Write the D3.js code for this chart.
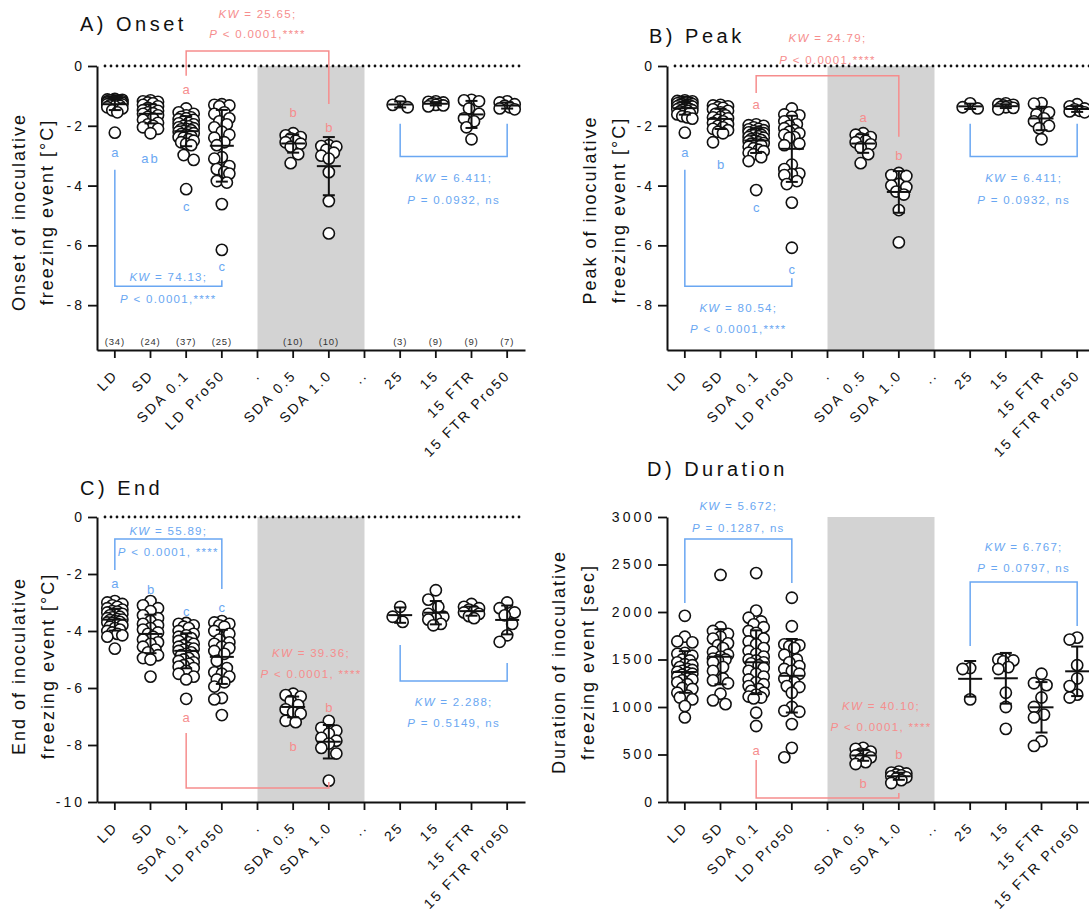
<!DOCTYPE html>
<html>
<head>
<meta charset="utf-8">
<script src="https://cdn.jsdelivr.net/npm/d3@7"></script>
<style>
  body { margin: 0; background: #fff; }
  svg text { font-family: "Liberation Sans", Arial, sans-serif; }
</style>
</head>
<body>
<svg id="fig" width="1089" height="915"></svg>
<script>
// Treatment groups; "." and ".." are empty spacer slots between blocks
const categories = ["LD", "SD", "SDA 0.1", "LD Pro50", ".", "SDA 0.5", "SDA 1.0", "..", "25", "15", "15 FTR", "15 FTR Pro50"];

// Onset of inoculative freezing event [°C], one list per group
const onset = [
  [-1.10,-1.12,-1.13,-1.14,-1.15,-1.15,-1.16,-1.17,-1.18,-1.18,-1.19,-1.20,-1.20,-1.21,-1.22,-1.22,-1.23,-1.24,-1.25,-1.25,-1.26,-1.27,-1.28,-1.29,-1.30,-1.30,-1.32,-1.33,-1.35,-1.38,-1.42,-1.48,-1.55,-2.23],
  [-1.15,-1.18,-1.20,-1.22,-1.25,-1.30,-1.35,-1.40,-1.45,-1.48,-1.50,-1.55,-1.58,-1.60,-1.65,-1.70,-1.75,-1.80,-1.90,-1.95,-2.00,-2.05,-2.10,-2.25],
  [-1.42,-1.55,-1.60,-1.65,-1.70,-1.72,-1.75,-1.78,-1.80,-1.85,-1.90,-1.92,-1.95,-2.00,-2.02,-2.05,-2.08,-2.10,-2.12,-2.15,-2.18,-2.20,-2.22,-2.25,-2.28,-2.30,-2.35,-2.38,-2.40,-2.45,-2.50,-2.55,-2.60,-2.65,-2.98,-3.14,-4.12],
  [-1.28,-1.30,-1.32,-1.35,-1.55,-1.60,-1.75,-1.85,-1.95,-2.05,-2.20,-2.30,-2.40,-2.55,-2.65,-3.05,-3.10,-3.35,-3.45,-3.55,-3.60,-3.85,-3.90,-4.62,-6.15],
  [],
  [-2.25,-2.32,-2.38,-2.42,-2.50,-2.55,-2.60,-2.70,-2.95,-3.25],
  [-2.65,-2.68,-2.70,-2.80,-2.90,-3.00,-3.10,-3.55,-4.52,-5.60],
  [],
  [-1.18,-1.30,-1.38],
  [-1.18,-1.20,-1.22,-1.25,-1.27,-1.28,-1.30,-1.32,-1.35],
  [-1.13,-1.15,-1.18,-1.42,-1.60,-1.75,-1.85,-2.05,-2.45],
  [-1.18,-1.22,-1.28,-1.33,-1.38,-1.42,-1.45]
];

// Peak of inoculative freezing event [°C]
const peak = [
  [-1.15,-1.17,-1.18,-1.20,-1.20,-1.22,-1.23,-1.25,-1.25,-1.27,-1.28,-1.30,-1.30,-1.32,-1.33,-1.35,-1.36,-1.38,-1.40,-1.40,-1.42,-1.44,-1.45,-1.47,-1.48,-1.50,-1.52,-1.55,-1.58,-1.62,-1.68,-1.72,-1.76,-2.23],
  [-1.30,-1.32,-1.35,-1.38,-1.40,-1.45,-1.50,-1.55,-1.60,-1.65,-1.70,-1.72,-1.75,-1.80,-1.85,-1.90,-1.95,-2.00,-2.05,-2.10,-2.15,-2.20,-2.25,-2.55],
  [-1.95,-1.98,-2.00,-2.05,-2.10,-2.12,-2.15,-2.18,-2.20,-2.22,-2.25,-2.28,-2.30,-2.30,-2.32,-2.35,-2.38,-2.40,-2.42,-2.45,-2.48,-2.50,-2.52,-2.55,-2.58,-2.60,-2.62,-2.65,-2.70,-2.75,-2.80,-2.85,-2.90,-2.95,-3.05,-3.18,-4.15],
  [-1.42,-1.62,-1.65,-1.70,-1.85,-1.95,-2.00,-2.08,-2.15,-2.20,-2.25,-2.30,-2.38,-2.40,-2.60,-2.65,-3.30,-3.45,-3.60,-3.62,-3.65,-3.85,-3.95,-4.57,-6.08],
  [],
  [-2.25,-2.30,-2.38,-2.42,-2.50,-2.55,-2.62,-2.72,-2.95,-3.25],
  [-3.58,-3.65,-3.68,-3.95,-4.00,-4.05,-4.20,-4.30,-4.82,-5.90],
  [],
  [-1.25,-1.38,-1.42],
  [-1.25,-1.28,-1.30,-1.32,-1.35,-1.37,-1.38,-1.40,-1.45],
  [-1.24,-1.26,-1.55,-1.62,-1.75,-1.85,-2.00,-2.08,-2.45],
  [-1.28,-1.35,-1.42,-1.45,-1.50,-1.52,-1.55]
];

// End of inoculative freezing event [°C]
const endTemp = [
  [-2.95,-3.00,-3.05,-3.10,-3.15,-3.20,-3.25,-3.30,-3.32,-3.35,-3.40,-3.42,-3.45,-3.50,-3.52,-3.55,-3.58,-3.60,-3.62,-3.65,-3.68,-3.70,-3.72,-3.75,-3.80,-3.85,-3.90,-3.95,-4.00,-4.05,-4.10,-4.15,-4.20,-4.62],
  [-2.95,-3.10,-3.20,-3.30,-3.45,-3.55,-3.65,-3.75,-3.80,-3.90,-3.95,-4.05,-4.10,-4.20,-4.30,-4.40,-4.45,-4.55,-4.65,-4.75,-4.85,-4.95,-5.00,-5.60],
  [-3.72,-3.75,-3.80,-3.85,-3.90,-4.00,-4.10,-4.15,-4.20,-4.25,-4.30,-4.35,-4.40,-4.45,-4.50,-4.55,-4.60,-4.62,-4.65,-4.70,-4.75,-4.80,-4.85,-4.90,-4.95,-5.00,-5.05,-5.10,-5.15,-5.20,-5.25,-5.30,-5.40,-5.50,-5.60,-5.70,-6.38],
  [-3.65,-3.70,-3.75,-3.80,-3.85,-4.00,-4.10,-4.30,-4.40,-4.45,-4.55,-4.60,-4.70,-4.80,-5.05,-5.30,-5.45,-5.50,-5.60,-5.70,-5.80,-5.95,-6.35,-6.40,-6.95],
  [],
  [-6.20,-6.25,-6.30,-6.45,-6.60,-6.75,-6.85,-6.90,-7.15,-7.20],
  [-7.15,-7.40,-7.50,-7.60,-7.75,-7.85,-7.95,-8.10,-8.30,-9.25],
  [],
  [-3.15,-3.50,-3.68],
  [-2.57,-2.90,-3.15,-3.40,-3.50,-3.55,-3.60,-3.75,-3.80],
  [-3.05,-3.15,-3.20,-3.25,-3.30,-3.35,-3.40,-3.48,-3.55],
  [-3.00,-3.20,-3.35,-3.45,-3.75,-4.15,-4.38]
];

// Duration of inoculative freezing event [sec]
const duration = [
  [1960,1740,1690,1680,1570,1560,1540,1500,1490,1470,1450,1440,1420,1400,1390,1380,1370,1360,1350,1340,1320,1300,1290,1280,1260,1240,1200,1190,1150,1120,1100,1080,1010,890],
  [2390,1840,1800,1770,1740,1720,1670,1650,1620,1580,1550,1530,1510,1500,1490,1470,1420,1380,1300,1280,1250,1140,1070,1030],
  [2410,2015,1940,1900,1870,1840,1800,1780,1720,1690,1660,1620,1590,1560,1530,1500,1490,1470,1460,1440,1410,1380,1350,1320,1290,1260,1240,1220,1190,1170,1150,1130,1110,1100,1090,940,800],
  [2150,1850,1660,1660,1650,1640,1620,1550,1500,1470,1430,1400,1380,1350,1300,1260,1220,1210,1150,1000,960,950,820,570,470],
  [],
  [570,560,530,510,500,490,470,450,420,400],
  [320,310,300,290,280,270,260,250,230,200],
  [],
  [1410,1400,1080],
  [1510,1500,1490,1480,1420,1400,1150,1000,770],
  [1350,1250,1230,1100,1000,920,890,640,590],
  [1730,1710,1440,1300,1220,1130,1100]
];

// Axis tick values
const tempTicks = [0, -2, -4, -6, -8];
const endTicks = [0, -2, -4, -6, -8, -10];
const durationTicks = [0, 500, 1000, 1500, 2000, 2500, 3000];

const BLUE = "#6aa7f2";
const RED = "#f68d8d";
const SHADE = "#d3d3d3";
const INK = "#111";
const R = 5.6;

const svg = d3.select("#fig");

// Spread points of a group sideways so that close values sit next to each other
function spread(pys) {
  const order = pys.map((py, i) => ({ py, i })).sort((a, b) => a.py - b.py);
  const offsets = [0, -2.5, 2.5, -5, 5, -7.5, 7.5];
  const placed = [];
  const out = new Array(pys.length);
  for (const p of order) {
    let best = 0, bestD = -1;
    for (const c of offsets) {
      let md = Infinity;
      for (const q of placed) {
        const d = Math.hypot(c - q.dx, p.py - q.py);
        if (d < md) md = d;
      }
      if (md >= 2 * R) { best = c; bestD = md; break; }
      if (md > bestD) { bestD = md; best = c; }
    }
    placed.push({ dx: best, py: p.py });
    out[p.i] = best;
  }
  return out;
}

function statText(g, x, yPix, str, color) {
  const t = g.append("text")
    .attr("x", x).attr("y", yPix)
    .attr("text-anchor", "middle")
    .attr("dominant-baseline", "central")
    .attr("fill", color)
    .style("font-size", "11.5px")
    .style("letter-spacing", "1.3px");
  const m = str.match(/^(KW|P)(.*)$/);
  t.append("tspan").attr("font-style", "italic").text(m[1]);
  t.append("tspan").text(m[2]);
}

function drawPanel(p) {
  const g = svg.append("g");
  const x = d3.scaleBand().domain(categories).range([p.x0, p.x0 + 428]);
  const cx = c => x(c) + x.bandwidth() / 2;
  const y = d3.scaleLinear().domain(p.domain).range([p.y1, p.y0]);

  // shaded block between the spacer slots
  g.append("rect")
    .attr("x", cx(".")).attr("width", cx("..") - cx("."))
    .attr("y", p.y0).attr("height", p.y1 - p.y0)
    .attr("fill", SHADE);

  if (p.zeroLine) {
    g.append("line")
      .attr("x1", p.x0 + 8).attr("x2", p.x0 + 428)
      .attr("y1", y(0)).attr("y2", y(0))
      .attr("stroke", INK).attr("stroke-width", 2.8)
      .attr("stroke-linecap", "round")
      .attr("stroke-dasharray", "0 6");
  }

  // y axis
  const ya = g.append("g").attr("transform", `translate(${p.x0},0)`)
    .call(d3.axisLeft(y).tickValues(p.ticks).tickSize(9).tickSizeOuter(0).tickPadding(3).tickFormat(d => String(d)));
  ya.select(".domain").attr("stroke", INK).attr("stroke-width", 2);
  ya.selectAll(".tick line").attr("stroke", INK).attr("stroke-width", 1.8);
  ya.selectAll(".tick text").attr("fill", INK)
    .style("font-family", '"Liberation Sans", Arial, sans-serif')
    .style("font-size", "14px").style("letter-spacing", "3px");

  // x axis
  const xa = g.append("g").attr("transform", `translate(0,${p.y1})`)
    .call(d3.axisBottom(x).tickSize(8).tickSizeOuter(0).tickFormat(""));
  xa.select(".domain").attr("stroke", INK).attr("stroke-width", 2);
  xa.selectAll(".tick line").attr("stroke", INK).attr("stroke-width", 1.8);
  xa.selectAll(".tick text").remove();
  g.selectAll(null).data(categories).join("text")
    .attr("transform", c => `translate(${cx(c) + 4},${p.y1 + 26}) rotate(-45)`)
    .attr("text-anchor", "end")
    .attr("fill", INK)
    .style("font-size", "14px").style("letter-spacing", "2.3px")
    .text(c => c);

  // group size labels
  if (p.showN) {
    categories.forEach((c, i) => {
      const n = p.values[i].length;
      if (!n) return;
      g.append("text")
        .attr("x", cx(c)).attr("y", y(p.nAt))
        .attr("text-anchor", "middle").attr("dominant-baseline", "central")
        .attr("fill", "#333")
        .style("font-size", "9.5px").style("letter-spacing", "0.8px")
        .text(`(${n})`);
    });
  }

  // individual observations
  categories.forEach((c, i) => {
    const vals = p.values[i];
    if (!vals.length) return;
    const pys = vals.map(v => y(v));
    const dxs = spread(pys);
    g.append("g").selectAll("circle").data(vals).join("circle")
      .attr("cx", (v, k) => cx(c) + dxs[k])
      .attr("cy", v => y(v))
      .attr("r", R)
      .attr("fill", "#fff").attr("stroke", INK).attr("stroke-width", 1.6);
  });

  // mean ± SD
  categories.forEach((c, i) => {
    const vals = p.values[i];
    if (vals.length < 2) return;
    const m = d3.mean(vals), sd = d3.deviation(vals);
    const xc = cx(c);
    const eb = g.append("g").attr("stroke", INK).attr("stroke-width", 2);
    eb.append("line").attr("x1", xc).attr("x2", xc).attr("y1", y(m - sd)).attr("y2", y(m + sd));
    eb.append("line").attr("x1", xc - 6).attr("x2", xc + 6).attr("y1", y(m - sd)).attr("y2", y(m - sd));
    eb.append("line").attr("x1", xc - 6).attr("x2", xc + 6).attr("y1", y(m + sd)).attr("y2", y(m + sd));
    eb.append("line").attr("x1", xc - 12).attr("x2", xc + 12).attr("y1", y(m)).attr("y2", y(m));
  });

  // brackets linking compared groups
  p.brackets.forEach(([a, va, b, vb, bar, color]) => {
    g.append("path")
      .attr("d", `M${cx(a)},${y(va)}V${y(bar)}H${cx(b)}V${y(vb)}`)
      .attr("fill", "none").attr("stroke", color).attr("stroke-width", 1.5);
  });

  // compact letter display
  p.letters.forEach(([c, v, t, color]) => {
    g.append("text")
      .attr("x", cx(c)).attr("y", y(v))
      .attr("text-anchor", "middle").attr("dominant-baseline", "central")
      .attr("fill", color)
      .style("font-size", "13px").style("letter-spacing", t.length > 1 ? "2px" : "0px")
      .text(t);
  });

  // Kruskal–Wallis results
  p.stats.forEach(([a, b, vs, lines, color]) => {
    const xm = (cx(a) + cx(b)) / 2;
    lines.forEach((s, k) => statText(g, xm, y(vs[k]), s, color));
  });

  // panel title
  g.append("text")
    .attr("x", p.titleX).attr("y", p.titleY)
    .attr("fill", INK)
    .style("font-size", "20px").style("letter-spacing", "3.5px")
    .text(p.title);

  // y axis title, two lines
  p.yTitle.forEach((s, k) => {
    g.append("text")
      .attr("transform", `translate(${p.yTitleX[k]},${p.yTitleY}) rotate(-90)`)
      .attr("text-anchor", "middle")
      .attr("fill", INK)
      .style("font-size", "18px").style("letter-spacing", "2px")
      .text(s);
  });
}

drawPanel({
  title: "A) Onset", titleX: 80, titleY: 31,
  values: onset, x0: 97, y0: 66, y1: 350, domain: [-9.5, 0], ticks: tempTicks,
  zeroLine: true, showN: true, nAt: -9.2,
  yTitle: ["Onset of inoculative", "freezing event [°C]"], yTitleX: [25, 53], yTitleY: 212,
  letters: [
    ["LD", -2.9, "a", BLUE], ["SD", -3.1, "ab", BLUE], ["SDA 0.1", -4.7, "c", BLUE], ["LD Pro50", -6.7, "c", BLUE],
    ["SDA 0.1", -0.77, "a", RED], ["SDA 0.5", -1.57, "b", RED], ["SDA 1.0", -2.07, "b", RED]
  ],
  brackets: [
    ["LD", -3.47, "LD Pro50", -7.17, -7.37, BLUE],
    ["SDA 0.1", -0.33, "SDA 1.0", -1.27, 0.5, RED],
    ["25", -1.93, "15 FTR Pro50", -1.93, -3.03, BLUE]
  ],
  stats: [
    ["LD", "LD Pro50", [-7.07, -7.8], ["KW = 74.13;", "P < 0.0001,****"], BLUE],
    ["SDA 0.1", "SDA 1.0", [1.73, 1.07], ["KW = 25.65;", "P < 0.0001,****"], RED],
    ["25", "15 FTR Pro50", [-3.73, -4.47], ["KW = 6.411;", "P = 0.0932, ns"], BLUE]
  ]
});

drawPanel({
  title: "B) Peak", titleX: 649, titleY: 43,
  values: peak, x0: 667, y0: 66, y1: 350, domain: [-9.5, 0], ticks: tempTicks,
  zeroLine: true, showN: false,
  yTitle: ["Peak of inoculative", "freezing event [°C]"], yTitleX: [596, 625], yTitleY: 210,
  letters: [
    ["LD", -2.9, "a", BLUE], ["SD", -3.3, "b", BLUE], ["SDA 0.1", -4.73, "c", BLUE], ["LD Pro50", -6.8, "c", BLUE],
    ["SDA 0.1", -1.3, "a", RED], ["SDA 0.5", -1.73, "a", RED], ["SDA 1.0", -3.0, "b", RED]
  ],
  brackets: [
    ["LD", -3.47, "LD Pro50", -7.1, -7.37, BLUE],
    ["SDA 0.1", -0.9, "SDA 1.0", -2.37, -0.33, RED],
    ["25", -1.93, "15 FTR Pro50", -1.93, -3.03, BLUE]
  ],
  stats: [
    ["LD", "LD Pro50", [-8.1, -8.8], ["KW = 80.54;", "P < 0.0001,****"], BLUE],
    ["SDA 0.1", "SDA 1.0", [0.93, 0.2], ["KW = 24.79;", "P < 0.0001,****"], RED],
    ["25", "15 FTR Pro50", [-3.73, -4.47], ["KW = 6.411;", "P = 0.0932, ns"], BLUE]
  ]
});

drawPanel({
  title: "C) End", titleX: 80, titleY: 495,
  values: endTemp, x0: 97, y0: 517, y1: 802, domain: [-10, 0], ticks: endTicks,
  zeroLine: true, showN: false,
  yTitle: ["End of inoculative", "freezing event [°C]"], yTitleX: [25, 54], yTitleY: 666,
  letters: [
    ["LD", -2.32, "a", BLUE], ["SD", -2.56, "b", BLUE], ["SDA 0.1", -3.3, "c", BLUE], ["LD Pro50", -3.19, "c", BLUE],
    ["SDA 0.1", -7.02, "a", RED], ["SDA 0.5", -8.04, "b", RED], ["SDA 1.0", -6.7, "b", RED]
  ],
  brackets: [
    ["LD", -1.86, "LD Pro50", -2.53, -0.77, BLUE],
    ["SDA 0.1", -7.58, "SDA 1.0", -9.3, -9.51, RED],
    ["25", -4.49, "15 FTR Pro50", -5.12, -5.75, BLUE]
  ],
  stats: [
    ["LD", "LD Pro50", [-0.49, -1.23], ["KW = 55.89;", "P < 0.0001, ****"], BLUE],
    ["SDA 0.5", "SDA 1.0", [-4.77, -5.51], ["KW = 39.36;", "P < 0.0001, ****"], RED],
    ["25", "15 FTR Pro50", [-6.49, -7.23], ["KW = 2.288;", "P = 0.5149, ns"], BLUE]
  ]
});

drawPanel({
  title: "D) Duration", titleX: 647, titleY: 476,
  values: duration, x0: 667, y0: 517, y1: 802, domain: [0, 3000], ticks: durationTicks,
  zeroLine: false, showN: false,
  yTitle: ["Duration of inoculative", "freezing event [sec]"], yTitleX: [565, 594], yTitleY: 662,
  letters: [
    ["SDA 0.1", 547, "a", RED], ["SDA 0.5", 200, "b", RED], ["SDA 1.0", 495, "b", RED]
  ],
  brackets: [
    ["LD", 2095, "LD Pro50", 2305, 2768, BLUE],
    ["SDA 0.1", 442, "SDA 1.0", 95, 42, RED],
    ["25", 1642, "15 FTR Pro50", 1853, 2316, BLUE]
  ],
  stats: [
    ["LD", "LD Pro50", [3116, 2884], ["KW = 5.672;", "P = 0.1287, ns"], BLUE],
    ["SDA 0.5", "SDA 1.0", [1010, 789], ["KW = 40.10;", "P < 0.0001, ****"], RED],
    ["25", "15 FTR Pro50", [2684, 2463], ["KW = 6.767;", "P = 0.0797, ns"], BLUE]
  ]
});
</script>
</body>
</html>
